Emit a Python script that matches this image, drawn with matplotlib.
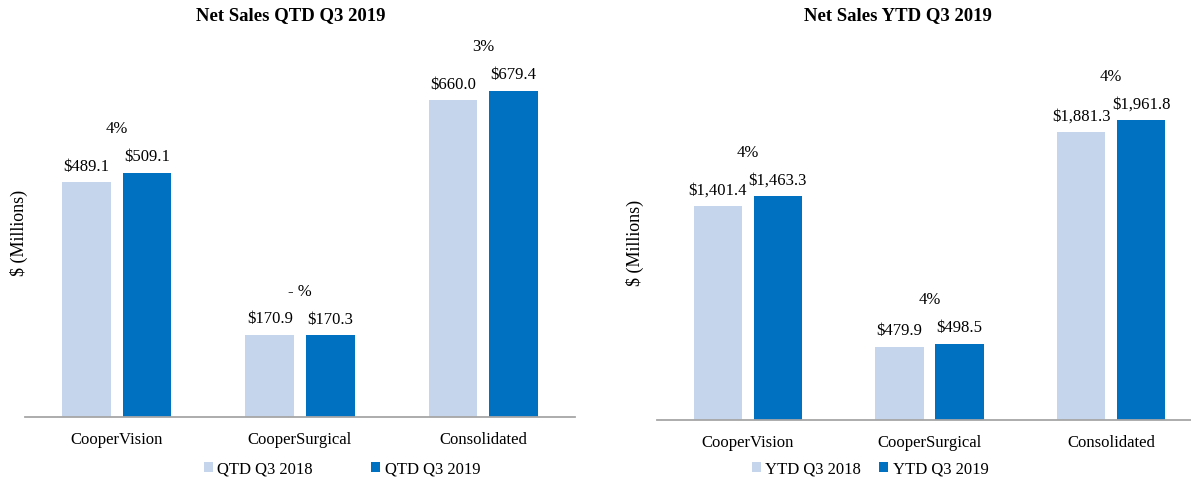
import matplotlib
matplotlib.use("Agg")
import matplotlib.pyplot as plt
import numpy as np

plt.rcParams["font.family"] = ["Liberation Serif", "DejaVu Serif"]

segments = ["CooperVision", "CooperSurgical", "Consolidated"]

qtd_2018 = [489.1, 170.9, 660.0]
qtd_2019 = [509.1, 170.3, 679.4]
qtd_growth = ["4%", "- %", "3%"]

ytd_2018 = [1401.4, 479.9, 1881.3]
ytd_2019 = [1463.3, 498.5, 1961.8]
ytd_growth = ["4%", "4%", "4%"]

light = "#C5D6EC"
dark = "#0070C0"


def draw_panel(ax, prev, curr, growth, ymax, labels, fmt):
    x = np.arange(len(segments))
    w = 0.265
    b1 = ax.bar(x - 0.165, prev, w, color=light, label=labels[0])
    b2 = ax.bar(x + 0.165, curr, w, color=dark, label=labels[1])
    for i in range(len(x)):
        ax.annotate(fmt(prev[i]), (x[i] - 0.165, prev[i]), xytext=(0, 12),
                    textcoords="offset points", ha="center", va="center",
                    fontsize=12)
        ax.annotate(fmt(curr[i]), (x[i] + 0.165, curr[i]), xytext=(0, 12),
                    textcoords="offset points", ha="center", va="center",
                    fontsize=12)
        ax.annotate(growth[i], (x[i], max(prev[i], curr[i])), xytext=(0, 32),
                    textcoords="offset points", ha="center", va="center",
                    fontsize=12)
    ax.set_xlim(-0.5, 2.5)
    ax.set_ylim(0, ymax)
    ax.set_xticks(x)
    ax.set_xticklabels(segments, fontsize=12)
    ax.set_yticks([])
    for s in ["top", "right", "left"]:
        ax.spines[s].set_visible(False)
    ax.spines["bottom"].set_color("#A6A6A6")
    ax.spines["bottom"].set_linewidth(1.3)
    ax.tick_params(axis="x", length=0, pad=10)
    return b1, b2


fig = plt.figure(figsize=(11.91, 4.85), dpi=100)

ax1 = fig.add_axes([25 / 1191, 67 / 485, 550 / 1191, 378 / 485])
h1 = draw_panel(ax1, qtd_2018, qtd_2019, qtd_growth, 787.5,
                ["QTD Q3 2018", "QTD Q3 2019"], lambda v: f"${v:,.1f}")

ax2 = fig.add_axes([657 / 1191, 64 / 485, 545 / 1191, 381 / 485])
h2 = draw_panel(ax2, ytd_2018, ytd_2019, ytd_growth, 2493,
                ["YTD Q3 2018", "YTD Q3 2019"], lambda v: f"${v:,.1f}")

fig.text(291 / 1191, 1 - 16 / 485, "Net Sales QTD Q3 2019", ha="center",
         va="center", fontsize=13.5, fontweight="bold")
fig.text(898 / 1191, 1 - 16 / 485, "Net Sales YTD Q3 2019", ha="center",
         va="center", fontsize=13.5, fontweight="bold")

fig.text(19 / 1191, 1 - 233 / 485, "$ (Millions)", rotation=90, ha="center",
         va="center", fontsize=13)
fig.text(635 / 1191, 1 - 243 / 485, "$ (Millions)", rotation=90, ha="center",
         va="center", fontsize=13)

fig.legend(handles=list(h1), loc="center", bbox_to_anchor=(342 / 1191, 1 - 470 / 485),
           ncol=2, frameon=False, fontsize=12, handlelength=0.55, handleheight=0.55,
           handletextpad=0.25, columnspacing=3.5, borderpad=0)
fig.legend(handles=list(h2), loc="center", bbox_to_anchor=(870 / 1191, 1 - 470 / 485),
           ncol=2, frameon=False, fontsize=12, handlelength=0.55, handleheight=0.55,
           handletextpad=0.25, columnspacing=1.1, borderpad=0)

fig.savefig("out.png", dpi=100)
